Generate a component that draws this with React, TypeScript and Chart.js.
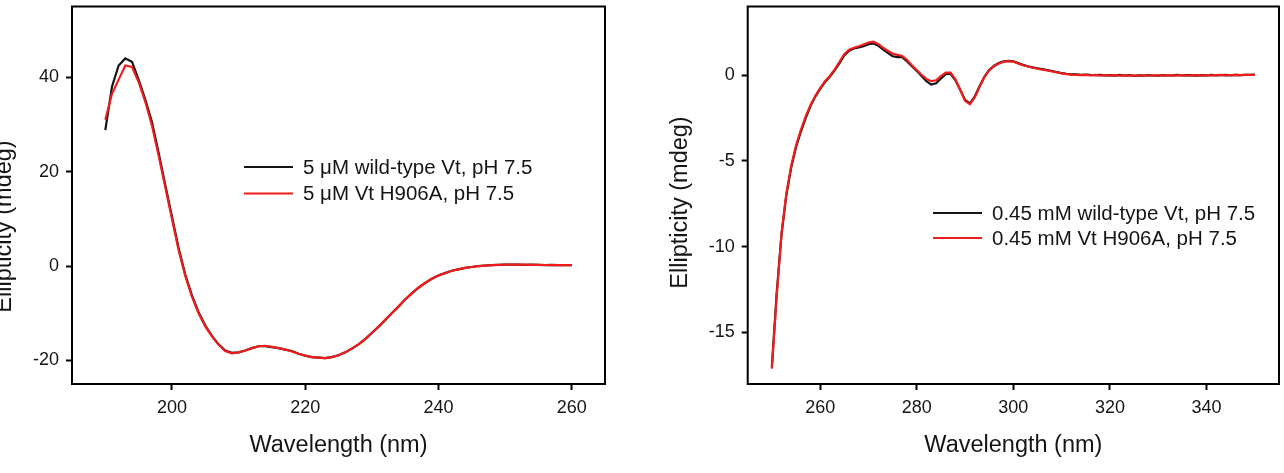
import { useEffect, useRef } from "react";
import { Chart, registerables } from "chart.js";

Chart.register(...registerables);

const FONT = "'Liberation Sans', Arial, Helvetica, sans-serif";
const TEXT = "#151515";
const BLACK = "#141414";
const RED = "#f21c1c";

// Far-UV CD scan, 190–260 nm in 1 nm steps
const farUvStartNm = 190;
const farUvWildType = [
  28.8, 38.0, 42.5, 44.0, 43.3, 39.5, 35.3, 30.5, 24.0, 17.2,
  10.5, 3.8, -1.8, -6.2, -9.8, -12.6, -14.8, -16.6, -17.9, -18.4,
  -18.3, -17.9, -17.4, -17.0, -17.0, -17.2, -17.4, -17.7, -18.0, -18.6,
  -19.0, -19.3, -19.4, -19.5, -19.3, -18.9, -18.3, -17.5, -16.6, -15.5,
  -14.2, -12.9, -11.5, -10.0, -8.6, -7.1, -5.8, -4.6, -3.6, -2.7,
  -2.0, -1.5, -1.0, -0.7, -0.4, -0.2, 0.0, 0.1, 0.2, 0.25,
  0.3, 0.3, 0.3, 0.25, 0.3, 0.25, 0.2, 0.25, 0.2, 0.2,
  0.2,
];
const farUvH906A = [
  31.0, 36.5, 39.5, 42.5, 42.2, 39.0, 34.8, 29.8, 23.4, 16.7,
  10.0, 3.4, -2.1, -6.5, -10.0, -12.8, -14.9, -16.7, -18.0, -18.5,
  -18.3, -17.9, -17.4, -17.0, -16.9, -17.1, -17.4, -17.7, -18.1, -18.6,
  -19.0, -19.3, -19.4, -19.5, -19.3, -18.9, -18.3, -17.5, -16.6, -15.5,
  -14.2, -12.8, -11.4, -10.0, -8.6, -7.1, -5.8, -4.6, -3.6, -2.7,
  -2.0, -1.5, -1.0, -0.7, -0.4, -0.2, 0.0, 0.1, 0.2, 0.25,
  0.3, 0.3, 0.28, 0.3, 0.25, 0.25, 0.22, 0.2, 0.22, 0.2,
  0.2,
];
const farUvXTicks = [200, 220, 240, 260];
const farUvYTicks = [-20, 0, 20, 40];
const farUvLabels = ["5 \u03bcM wild-type Vt, pH 7.5", "5 \u03bcM Vt H906A, pH 7.5"];

// Near-UV CD scan, 250–350 nm in 1 nm steps
const nearUvStartNm = 250;
const nearUvWildType = [
  -17.0, -12.7, -9.3, -7.0, -5.4, -4.2, -3.3, -2.5, -1.8, -1.25,
  -0.8, -0.4, -0.1, 0.28, 0.7, 1.15, 1.42, 1.55, 1.62, 1.68,
  1.8, 1.85, 1.72, 1.5, 1.3, 1.1, 1.05, 1.05, 0.8, 0.52,
  0.25, -0.05, -0.35, -0.55, -0.48, -0.2, 0.05, 0.08, -0.3, -0.85,
  -1.45, -1.65, -1.25, -0.65, -0.1, 0.3, 0.55, 0.7, 0.8, 0.83,
  0.8, 0.7, 0.6, 0.52, 0.45, 0.4, 0.35, 0.3, 0.24, 0.18,
  0.12, 0.08, 0.05, 0.04, 0.02, 0.03, 0.01, 0.0, 0.02, -0.01,
  0.0, -0.03, 0.01, -0.02, 0.0, -0.04, -0.01, -0.03, 0.0, -0.02,
  -0.03, 0.0, -0.02, -0.01, 0.01, -0.02, 0.0, -0.01, -0.03, 0.0,
  -0.01, 0.01, -0.02, 0.0, 0.01, -0.01, 0.02, 0.0, 0.01, 0.02,
  0.03,
];
const nearUvH906A = [
  -17.1, -12.9, -9.2, -6.9, -5.3, -4.1, -3.2, -2.4, -1.75, -1.2,
  -0.75, -0.35, -0.05, 0.33, 0.78, 1.22, 1.48, 1.6, 1.68, 1.78,
  1.9, 1.95, 1.82, 1.6, 1.42, 1.25, 1.18, 1.12, 0.88, 0.58,
  0.3, 0.02, -0.22, -0.35, -0.3, -0.05, 0.15, 0.15, -0.25, -0.85,
  -1.5, -1.7, -1.3, -0.7, -0.12, 0.28, 0.52, 0.68, 0.78, 0.82,
  0.78, 0.68, 0.58, 0.5, 0.43, 0.37, 0.32, 0.27, 0.21, 0.16,
  0.1, 0.06, 0.03, 0.02, 0.0, 0.02, -0.01, 0.01, -0.02, 0.0,
  -0.02, 0.0, -0.03, -0.01, -0.03, -0.02, -0.04, -0.01, -0.02, -0.03,
  -0.01, -0.02, 0.0, -0.03, -0.01, 0.0, -0.02, -0.01, 0.0, -0.02,
  0.0, -0.01, 0.0, 0.01, -0.01, 0.0, 0.01, 0.0, 0.01, 0.01,
  0.02,
];
const nearUvXTicks = [260, 280, 300, 320, 340];
const nearUvYTicks = [-15, -10, -5, 0];
const nearUvLabels = ["0.45 mM wild-type Vt, pH 7.5", "0.45 mM Vt H906A, pH 7.5"];

const toPoints = (start: number, values: number[]) =>
  values.map((y, i) => ({ x: start + i, y }));

type Decor = {
  titleX: number;
  titleY: number;
  legendX: number;
  legendY: number;
  legendGap: number;
};

// Draws the plot frame, the rotated y-axis title and the in-plot legend.
const decorPlugin = {
  id: "cdDecor",
  afterDraw(chart: any, _args: any, opts: Decor) {
    const { ctx, chartArea } = chart;
    const { left, top, right, bottom } = chartArea;
    ctx.save();
    ctx.strokeStyle = "#000";
    ctx.lineWidth = 2;
    ctx.strokeRect(left, top, right - left, bottom - top);

    ctx.fillStyle = TEXT;
    ctx.font = `23.5px ${FONT}`;
    ctx.textAlign = "center";
    ctx.textBaseline = "middle";
    ctx.translate(opts.titleX, opts.titleY);
    ctx.rotate(-Math.PI / 2);
    ctx.fillText("Ellipticity (mdeg)", 0, 0);
    ctx.restore();

    ctx.save();
    ctx.font = `20.5px ${FONT}`;
    ctx.textAlign = "left";
    ctx.textBaseline = "middle";
    chart.data.datasets.forEach((ds: any, i: number) => {
      const y = opts.legendY + i * opts.legendGap;
      ctx.strokeStyle = ds.borderColor;
      ctx.lineWidth = 2.2;
      ctx.beginPath();
      ctx.moveTo(opts.legendX, y);
      ctx.lineTo(opts.legendX + 49, y);
      ctx.stroke();
      ctx.fillStyle = TEXT;
      ctx.fillText(ds.label, opts.legendX + 59, y + 1);
    });
    ctx.restore();
  },
};

type PanelProps = {
  start: number;
  wild: number[];
  mutant: number[];
  labels: string[];
  xMin: number;
  xMax: number;
  yMin: number;
  yMax: number;
  xTicks: number[];
  yTicks: number[];
  yAxisWidth: number;
  padRight: number;
  decor: Decor;
};

function Panel(p: PanelProps) {
  const ref = useRef<HTMLCanvasElement | null>(null);

  useEffect(() => {
    if (!ref.current) return;
    const tickFont = { family: FONT, size: 18 };
    const chart = new Chart(ref.current, {
      type: "line",
      data: {
        datasets: [
          {
            label: p.labels[0],
            data: toPoints(p.start, p.wild),
            borderColor: BLACK,
            borderWidth: 2.2,
            pointRadius: 0,
            tension: 0,
            order: 1,
          },
          {
            label: p.labels[1],
            data: toPoints(p.start, p.mutant),
            borderColor: RED,
            borderWidth: 2.2,
            pointRadius: 0,
            tension: 0,
            order: 0,
          },
        ],
      },
      options: {
        animation: false,
        responsive: false,
        maintainAspectRatio: false,
        events: [],
        layout: { padding: { left: 0, right: p.padRight, top: 6.5, bottom: 0 } },
        plugins: {
          legend: { display: false },
          tooltip: { enabled: false },
          cdDecor: p.decor,
        } as any,
        scales: {
          x: {
            type: "linear",
            min: p.xMin,
            max: p.xMax,
            afterBuildTicks: (s: any) => {
              s.ticks = p.xTicks.map((v) => ({ value: v }));
            },
            afterFit: (s: any) => {
              s.height = 89;
              s.paddingLeft = 0;
              s.paddingRight = 0;
            },
            border: { display: false },
            grid: {
              display: true,
              drawOnChartArea: false,
              drawTicks: true,
              tickLength: 6,
              tickColor: "#000",
              tickWidth: 2,
            },
            ticks: { font: tickFont, color: TEXT, padding: 7.5, maxRotation: 0, autoSkip: false },
            title: {
              display: true,
              text: "Wavelength (nm)",
              color: TEXT,
              font: { family: FONT, size: 23.5, lineHeight: 1.2 },
              padding: { top: 0, bottom: 13.6 },
            },
          },
          y: {
            type: "linear",
            min: p.yMin,
            max: p.yMax,
            afterBuildTicks: (s: any) => {
              s.ticks = p.yTicks.map((v) => ({ value: v }));
            },
            afterFit: (s: any) => {
              s.width = p.yAxisWidth;
              s.paddingTop = 0;
              s.paddingBottom = 0;
            },
            border: { display: false },
            grid: {
              display: true,
              drawOnChartArea: false,
              drawTicks: true,
              tickLength: 6,
              tickColor: "#000",
              tickWidth: 2,
            },
            ticks: { font: tickFont, color: TEXT, padding: 7, autoSkip: false },
          },
        },
      },
      plugins: [decorPlugin],
    } as any);
    return () => chart.destroy();
  }, []);

  return <canvas ref={ref} width={642} height={473} style={{ display: "block" }} />;
}

export default function App() {
  return (
    <div
      style={{
        position: "absolute",
        left: 0,
        top: 0,
        width: 1284,
        height: 473,
        overflow: "hidden",
        background: "#fff",
        display: "flex",
      }}
    >
      <Panel
        start={farUvStartNm}
        wild={farUvWildType}
        mutant={farUvH906A}
        labels={farUvLabels}
        xMin={185}
        xMax={265}
        yMin={-25}
        yMax={55}
        xTicks={farUvXTicks}
        yTicks={farUvYTicks}
        yAxisWidth={72}
        padRight={37}
        decor={{ titleX: 5, titleY: 226.5, legendX: 244, legendY: 167, legendGap: 26.5 }}
      />
      <Panel
        start={nearUvStartNm}
        wild={nearUvWildType}
        mutant={nearUvH906A}
        labels={nearUvLabels}
        xMin={245}
        xMax={355}
        yMin={-18}
        yMax={4}
        xTicks={nearUvXTicks}
        yTicks={nearUvYTicks}
        yAxisWidth={105.7}
        padRight={5}
        decor={{ titleX: 39, titleY: 202.5, legendX: 291, legendY: 213, legendGap: 25 }}
      />
    </div>
  );
}
